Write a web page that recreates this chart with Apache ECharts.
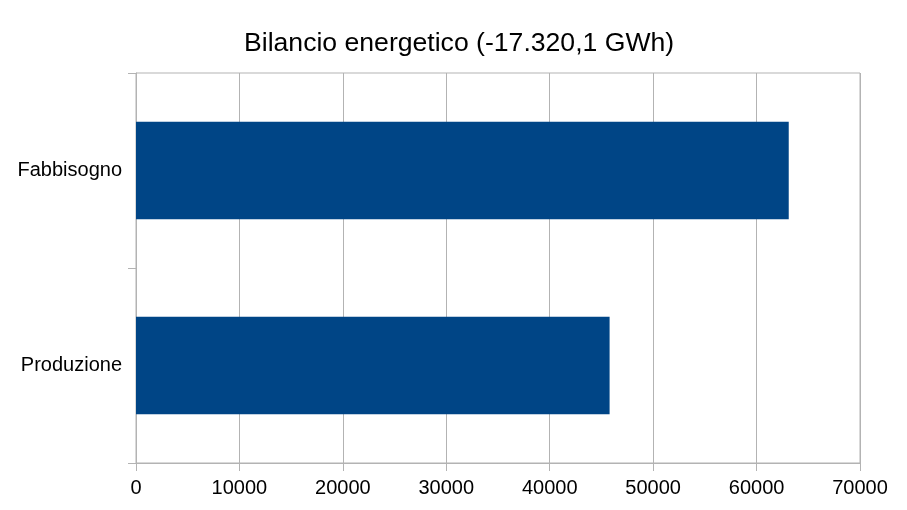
<!DOCTYPE html>
<html>
<head>
<meta charset="utf-8">
<script src="https://cdn.jsdelivr.net/npm/echarts@6/dist/echarts.min.js"></script>
<style>
  html, body { margin: 0; padding: 0; background: #fff; }
  #chart { width: 907px; height: 510px; }
</style>
</head>
<body>
<div id="chart"></div>
<script>
// voci del bilancio (dal basso verso l'alto)
const categories = ['Produzione', 'Fabbisogno'];
const values = [45790, 63110];
const xTicks = [0, 10000, 20000, 30000, 40000, 50000, 60000, 70000];
const titleText = 'Bilancio energetico (-17.320,1 GWh)';

const gray = '#b3b3b3';
const font = '"Liberation Sans", Arial, sans-serif';

const chart = echarts.init(document.getElementById('chart'));
chart.setOption({
    animation: false,
    title: {
        text: titleText,
        left: 239,
        top: 25,
        textStyle: { fontFamily: font, fontSize: 26.6, fontWeight: 'normal', color: '#000' }
    },
    grid: {
        left: 136, right: 47, top: 73, bottom: 47,
        show: true, borderColor: gray, borderWidth: 1
    },
    xAxis: {
        type: 'value',
        min: xTicks[0],
        max: xTicks[xTicks.length - 1],
        interval: xTicks[1] - xTicks[0],
        axisLine: { show: true, lineStyle: { color: gray } },
        axisTick: { show: true, length: 8, lineStyle: { color: gray } },
        splitLine: { show: true, lineStyle: { color: gray } },
        axisLabel: {
            margin: 15, fontFamily: font, fontSize: 20, color: '#000',
            formatter: v => String(v)
        }
    },
    yAxis: {
        type: 'category',
        data: categories,
        axisLine: { show: true, lineStyle: { color: gray } },
        axisTick: { show: true, length: 8, lineStyle: { color: gray } },
        splitLine: { show: false },
        axisLabel: { margin: 14, fontFamily: font, fontSize: 20, color: '#000' }
    },
    series: [{
        type: 'bar',
        data: values,
        barWidth: '50%',
        itemStyle: { color: '#004586' }
    }]
});
</script>
</body>
</html>
